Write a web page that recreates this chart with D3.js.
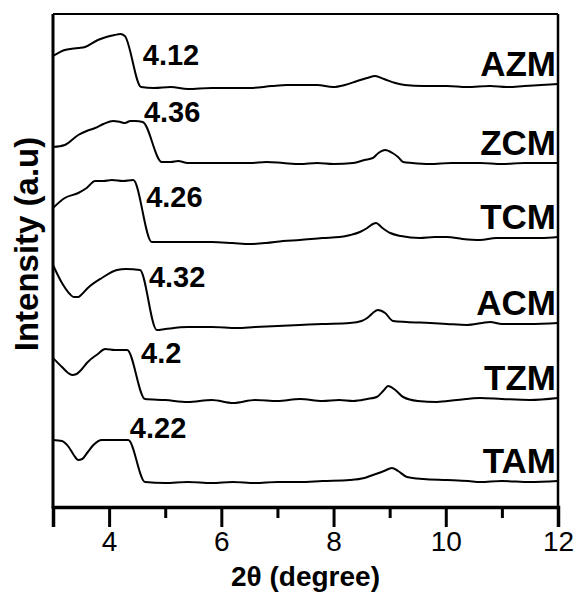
<!DOCTYPE html>
<html lang="en">
<head>
  <meta charset="UTF-8">
  <title>XRD low-angle patterns</title>
  <script src="https://cdn.jsdelivr.net/npm/d3@7"></script>
  <style>
    html, body { margin: 0; padding: 0; background: #fff; }
    svg { display: block; }
    text { font-family: "Liberation Sans", Arial, sans-serif; fill: #000; }
  </style>
</head>
<body>
  <script>
    // ------------- Data -------------
    const seriesNames = ["AZM", "ZCM", "TCM", "ACM", "TZM", "TAM"];
    const peakLabels  = ["4.12", "4.36", "4.26", "4.32", "4.2", "4.22"];
    // where each peak label sits, in data units (2θ, intensity)
    const peakLabelX  = [4.60, 4.62, 4.66, 4.71, 4.57, 4.37];
    const peakLabelY  = [442, 385, 300, 220, 144, 69];

    const majorTicks = [4, 6, 8, 10, 12];
    const minorTicks = [3, 5, 7, 9, 11];

    const twoTheta = {
      AZM: [3.00,3.21,3.45,3.57,3.80,3.95,4.10,4.20,4.28,4.57,4.80,5.10,5.40,5.83,6.20,6.51,6.90,7.17,7.40,7.71,7.99,8.20,8.42,8.60,8.74,8.90,9.10,9.27,9.60,10.02,10.38,10.79,11.09,11.40,11.70,12.00],
      ZCM: [3.00,3.21,3.45,3.60,3.75,3.90,4.07,4.20,4.28,4.38,4.46,4.60,4.94,5.10,5.23,5.40,5.83,6.20,6.50,6.81,7.10,7.40,7.71,8.00,8.35,8.55,8.70,8.80,8.92,9.05,9.15,9.24,9.40,9.72,10.10,10.61,11.00,11.40,12.00],
      TCM: [3.00,3.21,3.45,3.60,3.75,3.90,4.05,4.25,4.43,4.76,5.20,5.83,6.20,6.51,6.80,7.10,7.40,7.80,8.11,8.30,8.47,8.60,8.70,8.76,8.85,9.01,9.20,9.54,9.80,10.02,10.30,10.61,10.90,11.30,11.70,12.00],
      ACM: [3.00,3.16,3.30,3.37,3.45,3.50,3.62,3.87,4.14,4.30,4.55,4.85,5.00,5.40,5.83,6.28,6.60,7.00,7.40,7.80,8.29,8.50,8.60,8.70,8.79,8.92,9.06,9.30,9.72,10.02,10.38,10.65,10.79,11.00,11.50,12.00],
      TZM: [3.00,3.16,3.27,3.34,3.42,3.50,3.62,3.80,3.93,4.10,4.32,4.64,5.00,5.40,5.83,6.21,6.60,7.00,7.40,7.80,8.10,8.35,8.60,8.77,8.90,8.97,9.10,9.24,9.50,9.84,10.20,10.61,11.00,11.50,12.00],
      TAM: [3.00,3.16,3.28,3.37,3.45,3.52,3.62,3.72,3.87,4.10,4.34,4.64,5.00,5.40,5.83,6.20,6.60,7.00,7.40,7.80,8.29,8.55,8.70,8.90,9.04,9.15,9.31,9.60,10.02,10.40,10.61,11.00,11.50,12.00]
    };

    // stacked intensities (a.u.), offsets already included
    const intensity = {
      AZM: [451,457,459,460,467,470,472,473,471,420,419,420,418,419,419,419,421,422,422,422,420,422,426,429,431,428,424,422,421,421,420,421,420,421,422,423],
      ZCM: [360,362,372,376,379,383,386,385,384,386,386,385,345,345,346,344,344,344,344,345,344,343,344,343,344,347,349,354,357,354,350,345,344,343,344,344,343,344,344],
      TCM: [299,309,314,319,326,326,327,326,327,265,265,265,264,263,264,266,267,269,270,272,275,279,283,284,280,274,271,269,270,270,268,267,269,269,269,270],
      ACM: [242,224,213,210,210,212,219,229,237,238,237,177,178,180,180,179,180,181,182,183,184,186,189,194,197,194,186,185,184,183,182,184,185,183,183,184],
      TZM: [149,140,134,132,133,137,145,153,158,157,157,108,107,105,107,104,107,106,108,106,107,106,108,110,117,121,117,110,106,105,107,109,108,107,109],
      TAM: [67,66,60,52,47,48,55,62,67,67,67,25,24,25,24,25,24,25,25,26,27,29,32,36,39,36,30,28,27,26,25,26,25,26]
    };

    // ------------- Layout -------------
    const width = 581, height = 593;
    const margin = { top: 14, right: 23, bottom: 86, left: 53 };

    const svg = d3.select("body").append("svg")
      .attr("width", width)
      .attr("height", height);

    const x = d3.scaleLinear().domain([3, 12]).range([margin.left, width - margin.right]);
    const y = d3.scaleLinear().domain([0, 493]).range([height - margin.bottom, margin.top]);

    // ------------- Curves -------------
    const line = d3.line()
      .x(d => x(d[0]))
      .y(d => y(d[1]))
      .curve(d3.curveMonotoneX);

    seriesNames.forEach((name, i) => {
      const pts = twoTheta[name].map((t, k) => [t, intensity[name][k]]);
      svg.append("path")
        .attr("d", line(pts))
        .attr("fill", "none")
        .attr("stroke", "#000")
        .attr("stroke-width", 2)
        .attr("stroke-linejoin", "round");

      // sample name, right aligned just above the tail of the trace
      const last = intensity[name][intensity[name].length - 1];
      svg.append("text")
        .attr("x", x(12) - 2)
        .attr("y", y(last) - 8)
        .attr("text-anchor", "end")
        .attr("font-size", 35)
        .attr("font-weight", "bold")
        .text(name);

      // peak position label
      svg.append("text")
        .attr("x", x(peakLabelX[i]))
        .attr("y", y(peakLabelY[i]))
        .attr("font-size", 29)
        .attr("font-weight", "bold")
        .text(peakLabels[i]);
    });

    // ------------- Frame -------------
    const x0 = x(3), x1 = x(12), y0 = y(0), y1 = y(493);
    svg.append("line").attr("x1", x0).attr("x2", x1).attr("y1", y1).attr("y2", y1)
      .attr("stroke", "#000").attr("stroke-width", 2);
    svg.append("line").attr("x1", x1).attr("x2", x1).attr("y1", y1).attr("y2", y0)
      .attr("stroke", "#000").attr("stroke-width", 2.5);
    svg.append("line").attr("x1", x0).attr("x2", x0).attr("y1", y1).attr("y2", y0 + 1.5)
      .attr("stroke", "#000").attr("stroke-width", 3);

    // ------------- X axis -------------
    const gMajor = svg.append("g")
      .attr("transform", `translate(0,${y0})`)
      .call(d3.axisBottom(x).tickValues(majorTicks).tickSize(20).tickPadding(4).tickFormat(d3.format("d")));
    gMajor.select(".domain").attr("stroke-width", 3.5);
    gMajor.selectAll(".tick line").attr("stroke-width", 3);
    gMajor.selectAll(".tick text")
      .attr("font-size", 28)
      .attr("font-family", "'Liberation Sans', Arial, sans-serif")
      .attr("fill", "#000");

    const gMinor = svg.append("g")
      .attr("transform", `translate(0,${y0})`)
      .call(d3.axisBottom(x).tickValues(minorTicks).tickSize(11).tickFormat(""));
    gMinor.select(".domain").remove();
    gMinor.selectAll(".tick line").attr("stroke-width", 3);

    // ------------- Axis titles -------------
    svg.append("text")
      .attr("x", (x0 + x1) / 2)
      .attr("y", 586)
      .attr("text-anchor", "middle")
      .attr("font-size", 28)
      .attr("font-weight", "bold")
      .text("2θ (degree)");

    svg.append("text")
      .attr("transform", `translate(38,244) rotate(-90)`)
      .attr("text-anchor", "middle")
      .attr("font-size", 33)
      .attr("font-weight", "bold")
      .text("Intensity (a.u)");
  </script>
</body>
</html>
